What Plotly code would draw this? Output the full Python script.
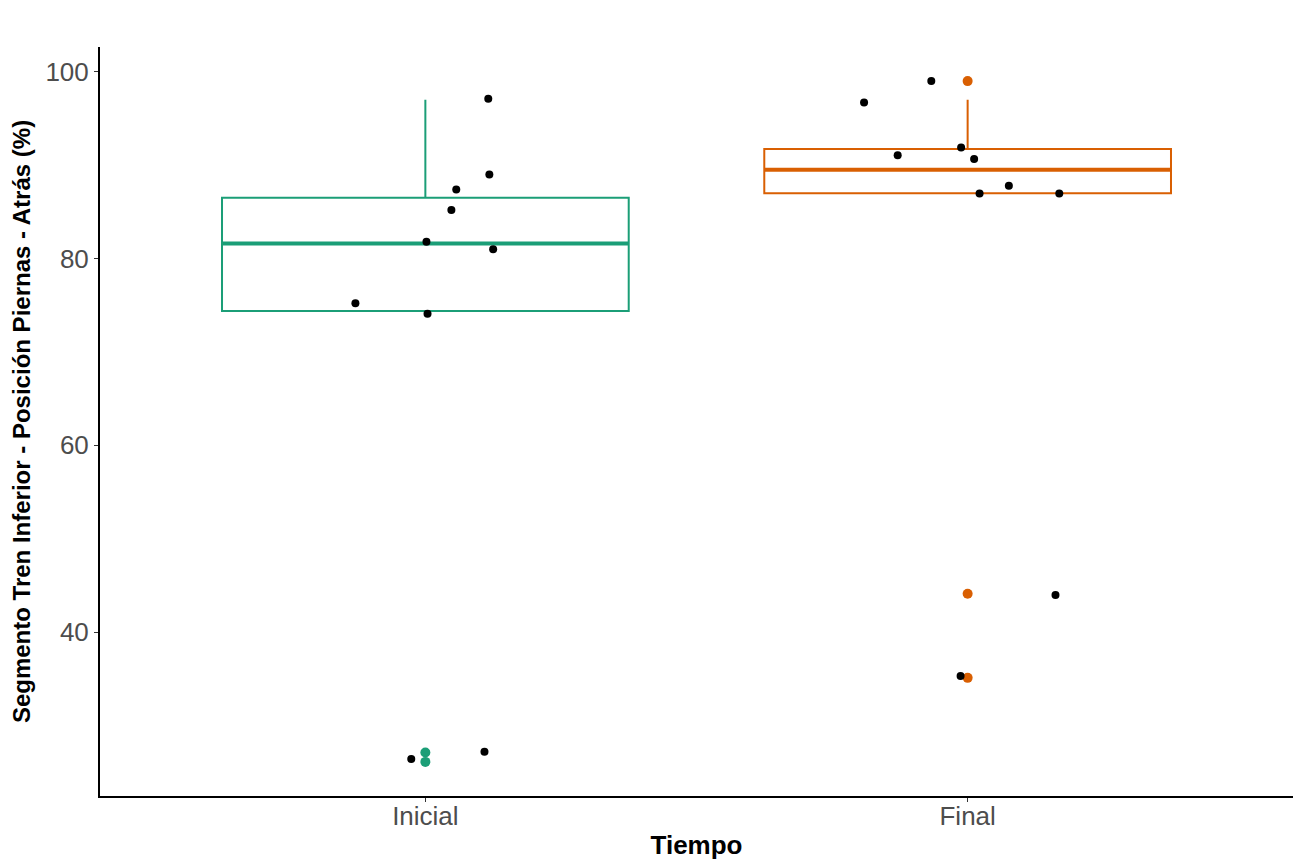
import numpy as np
import plotly.graph_objects as go

# categories and colours (Dark2)
tiempos = ["Inicial", "Final"]
colores = ["#1B9E77", "#D95F02"]

# observed values per time point (used for the boxes)
inicial_valores = [97.0, 89.0, 87.0, 85.0, 81.8, 81.4, 75.2, 74.1, 27.1, 26.1]
final_valores = [99.0, 97.0, 91.9, 91.2, 90.9, 88.1, 87.0, 87.0, 44.1, 35.1]

# jittered points as drawn on top (x offset from category centre, y value)
inicial_jitter_x = [0.116, 0.118, 0.057, 0.048, 0.002, 0.125, -0.129, 0.004, -0.026, 0.109]
inicial_jitter_y = [97.1, 89.0, 87.4, 85.2, 81.8, 81.0, 75.2, 74.1, 26.4, 27.2]
final_jitter_x = [-0.191, -0.067, -0.129, -0.012, 0.012, 0.076, 0.022, 0.169, 0.162, -0.013]
final_jitter_y = [96.7, 99.0, 91.05, 91.9, 90.66, 87.8, 86.95, 86.95, 43.96, 35.3]

valores = [inicial_valores, final_valores]
jitter_x = [inicial_jitter_x, final_jitter_x]
jitter_y = [inicial_jitter_y, final_jitter_y]

box_width = 0.75
fig = go.Figure()

for i, (nombre, color) in enumerate(zip(tiempos, colores)):
    pos = i + 1
    vals = np.array(valores[i])
    # ggplot-style (type 7) quartiles and 1.5 IQR whiskers
    q1, med, q3 = np.percentile(vals, [25, 50, 75])
    iqr = q3 - q1
    dentro = vals[(vals >= q1 - 1.5 * iqr) & (vals <= q3 + 1.5 * iqr)]
    fuera = vals[(vals < q1 - 1.5 * iqr) | (vals > q3 + 1.5 * iqr)]
    fig.add_trace(go.Box(
        x=[pos], q1=[q1], median=[med], q3=[q3],
        lowerfence=[dentro.min()], upperfence=[dentro.max()],
        name=nombre, width=box_width, whiskerwidth=0,
        line=dict(color=color, width=2), fillcolor="white",
        showlegend=False, hoverinfo="y",
    ))
    # thicker median line like ggplot
    fig.add_trace(go.Scatter(
        x=[pos - box_width / 2, pos + box_width / 2], y=[med, med],
        mode="lines", line=dict(color=color, width=4),
        showlegend=False, hoverinfo="skip",
    ))
    # outliers
    fig.add_trace(go.Scatter(
        x=[pos] * len(fuera), y=fuera,
        mode="markers", marker=dict(color=color, size=10),
        showlegend=False, hoverinfo="y",
    ))

for i in range(len(tiempos)):
    pos = i + 1
    fig.add_trace(go.Scatter(
        x=[pos + dx for dx in jitter_x[i]], y=jitter_y[i],
        mode="markers", marker=dict(color="black", size=8),
        showlegend=False, hoverinfo="y",
    ))

# page body adds an 8px offset, so the figure is 8px smaller
fig.update_layout(
    width=1299, height=859,
    plot_bgcolor="white", paper_bgcolor="white",
    margin=dict(l=92, r=14, t=39, b=71),
    font=dict(family="Liberation Sans, Arial, sans-serif"),
)
fig.update_xaxes(
    range=[0.4, 2.6], tickmode="array", tickvals=[1, 2], ticktext=tiempos,
    showgrid=False, zeroline=False, automargin=False,
    showline=True, linecolor="black", linewidth=2,
    ticks="outside", ticklen=4, tickcolor="#333333", tickwidth=1,
    ticklabelstandoff=-8,
    tickfont=dict(size=26, color="#4D4D4D"),
    title=dict(text="<b>Tiempo</b>", font=dict(size=26, color="black"), standoff=6),
)
fig.update_yaxes(
    range=[22.45, 102.65], tickvals=[40, 60, 80, 100],
    showgrid=False, zeroline=False, automargin=False,
    showline=True, linecolor="black", linewidth=2,
    ticks="outside", ticklen=4, tickcolor="#333333", tickwidth=1,
    tickfont=dict(size=26, color="#4D4D4D"),
    title=dict(text="<b>Segmento Tren Inferior - Posición Piernas - Atrás (%)</b>",
               font=dict(size=24, color="black"), standoff=10),
)

fig.write_html("out.html")
